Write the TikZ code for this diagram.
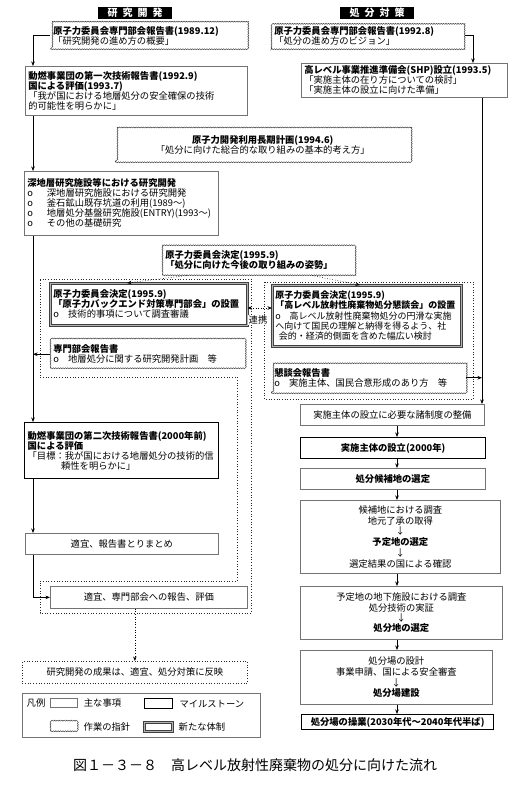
\documentclass[tikz,border=0pt]{standalone}
\usepackage{fontspec}
\setmainfont{Noto Sans CJK JP}
\usepackage{tikz}
\usetikzlibrary{arrows.meta, positioning, decorations.pathmorphing}
\tikzset{
  blk/.style={rectangle, align=left, anchor=north west, text=black,
              font=\fontsize{9.3}{10}\selectfont, inner xsep=3pt, inner ysep=2pt},
  mainb/.style={blk, draw=black!55, line width=0.7pt},
  mileb/.style={blk, draw=black, line width=1.3pt},
  guideb/.style={blk, draw=black!75, line width=0.5pt, decorate,
                 decoration={snake, amplitude=0.5pt, segment length=2.4pt}},
  newb/.style={blk, draw=black!75, line width=0.5pt, double=black!30, double distance=1.5pt},
  grp/.style={dotted, line width=0.7pt, draw=black!85},
  pipe/.style={-{Stealth[length=4.5pt, width=3.5pt]}, line width=0.6pt, draw=black},
  dpipe/.style={pipe, dotted},
  hdr/.style={fill=black, text=white, font=\bfseries\fontsize{10}{10}\selectfont,
              inner xsep=3pt, inner ysep=1pt, minimum width=74pt, minimum height=10pt},
  lbl/.style={font=\fontsize{9.3}{10}\selectfont, inner sep=1pt},
}

\begin{document}
\begin{tikzpicture}[x=1pt, y=-1pt, node distance=5pt]
    \fill[white] (0,0) rectangle (512,792);
    \useasboundingbox (0,0) rectangle (512,792);

    \node[hdr] (hres) at (135,13) {研\hspace{5pt}究\hspace{5pt}開\hspace{5pt}発};
    \node[hdr] (hdis) at (377,13) {処\hspace{5pt}分\hspace{5pt}対\hspace{5pt}策};

    \draw[grp] (40,279) -- (251,279) -- (251,613) -- (40,613) -- (40,581) -- (237,581) -- (237,377) -- (40,377) -- cycle;
    \draw[grp] (264,282) rectangle (473,399);

    \node[guideb, text width=191pt, minimum height=27pt] (a1) at (50,22) {\textbf{原子力委員会専門部会報告書(1989.12)}\\「研究開発の進め方の概要」};
    \node[mainb, text width=216pt, minimum height=49pt] (a2) at (25,66) {\textbf{動燃事業団の第一次技術報告書(1992.9)}\\\textbf{国による評価(1993.7)}\\「我が国における地層処分の安全確保の技術\\的可能性を明らかに」};
    \node[mainb, text width=188pt, minimum height=64pt] (a3) at (24,171) {\textbf{深地層研究施設等における研究開発}\\o\hspace{1.5em}深地層研究施設における研究開発\\o\hspace{1.5em}釜石鉱山既存坑道の利用(1989～)\\o\hspace{1.5em}地層処分基盤研究施設(ENTRY)(1993～)\\o\hspace{1.5em}その他の基礎研究};
    \node[mileb, text width=188pt, minimum height=56pt] (a4) at (24,422) {\textbf{動燃事業団の第二次技術報告書(2000年前)}\\\textbf{国による評価}\\「目標：我が国における地層処分の技術的信\\\hspace*{3.6em}頼性を明らかに」};
    \node[mainb, text width=187pt, minimum height=21pt, align=center] (a5) at (25,533) {適宜、報告書とりまとめ};
    \node[mainb, text width=191pt, minimum height=22pt, align=center] (a6) at (50,586) {適宜、専門部会への報告、評価};
    \node[blk, grp, text width=219pt, minimum height=22pt, align=center] (g1) at (22,661) {研究開発の成果は、適宜、処分対策に反映};

    \node[guideb, text width=289pt, minimum height=35pt, align=center] (c1) at (115,127) {\textbf{原子力開発利用長期計画(1994.6)}\\「処分に向けた総合的な取り組みの基本的考え方」};
    \node[guideb, text width=187pt, minimum height=30pt] (d1) at (162,245) {\textbf{原子力委員会決定(1995.9)}\\\textbf{「処分に向けた今後の取り組みの姿勢」}};
    \node[newb, text width=191pt, minimum height=42pt] (e1) at (50,283) {\textbf{原子力委員会決定(1995.9)}\\\textbf{「原子力バックエンド対策専門部会」の設置}\\o\quad 技術的事項について調査審議};
    \node[guideb, text width=189pt, minimum height=28pt] (e4) at (50,340) {\textbf{専門部会報告書}\\o\quad 地層処分に関する研究開発計画\hspace{1em}等};
    \node[newb, text width=183pt, minimum height=61pt, font=\fontsize{9}{10.2}\selectfont] (e2) at (272,285) {\textbf{原子力委員会決定(1995.9)}\\\textbf{「高レベル放射性廃棄物処分懇談会」の設置}\\o\quad 高レベル放射性廃棄物処分の円滑な実施\\へ向けて国民の理解と納得を得るよう、社\\\hspace*{0.4em}会的・経済的側面を含めた幅広い検討};
    \node[guideb, text width=188pt, minimum height=31pt] (e3) at (271,362) {\textbf{懇談会報告書}\\o\quad 実施主体、国民合意形成のあり方\hspace{1em}等};

    \node[guideb, text width=187pt, minimum height=27pt] (b1) at (271,22) {\textbf{原子力委員会専門部会報告書(1992.8)}\\「処分の進め方のビジョン」};
    \node[mainb, text width=200pt, minimum height=34pt] (b2) at (301,63) {\textbf{高レベル事業推進準備会(SHP)設立(1993.5)}\\「実施主体の在り方についての検討」\\「実施主体の設立に向けた準備」};

    \node[mainb, text width=178pt, minimum height=21pt, align=center] (f1) at (300,404) {実施主体の設立に必要な諸制度の整備};
    \node[mileb, text width=179pt, minimum height=21pt, align=center] (f2) at (300,437) {\textbf{実施主体の設立(2000年)}};
    \node[mainb, text width=179pt, minimum height=21pt, align=center] (f3) at (300,468) {\textbf{処分候補地の選定}};
    \node[mainb, text width=194pt, minimum height=73pt, align=center, font=\fontsize{9.3}{10.8}\selectfont] (f4) at (300,500) {候補地における調査\\地元了承の取得\\↓\\\textbf{予定地の選定}\\↓\\選定結果の国による確認};
    \node[mainb, text width=196pt, minimum height=53pt, align=center, font=\fontsize{9.3}{10.3}\selectfont] (f5) at (300,586) {予定地の地下施設における調査\\処分技術の実証\\↓\\\textbf{処分地の選定}};
    \node[mainb, text width=186pt, minimum height=54pt, align=center, font=\fontsize{9.3}{10.6}\selectfont] (f6) at (300,650) {処分場の設計\\事業申請、国による安全審査\\↓\\\textbf{処分場建設}};
    \node[mileb, text width=186pt, minimum height=15pt, inner ysep=1pt, align=center] (f7) at (301,714) {\textbf{処分場の操業(2030年代～2040年代半ば)}};

    \coordinate (lx) at (33,0);
    \coordinate (rx) at (482,0);
    \coordinate (rx1) at (473,0);
    \coordinate (ax) at (397,0);
    \coordinate (lk) at (258,308);

    \draw[pipe] (a1.west) -| (a2.north -| lx);
    \draw[pipe] (a2.south -| lx) -- (a3.north -| lx);
    \draw[pipe] (a3.south -| lx) -- (a4.north -| lx);
    \draw[pipe] (a4.south -| lx) -- (a5.north -| lx);
    \draw[pipe] (a5.south -| lx) |- (a6.west);
    \draw[pipe] (e4.west) -- (e4.west -| lx);
    \draw[dpipe] (a6.south -| g1.north) -- (g1.north);

    \draw[pipe] (b1.east) -| (b2.north -| rx1);
    \draw[pipe] (b2.south -| rx) -- (f1.north -| rx);
    \draw[pipe] (e3.east) -- (e3.east -| rx);
    \draw[pipe] (f1.south -| ax) -- (f2.north -| ax);
    \draw[pipe] (f2.south -| ax) -- (f3.north -| ax);
    \draw[pipe] (f3.south -| ax) -- (f4.north -| ax);
    \draw[pipe] (f4.south -| ax) -- (f5.north -| ax);
    \draw[pipe] (f5.south -| ax) -- (f6.north -| ax);
    \draw[pipe] (f6.south -| ax) -- (f7.north -| ax);

    \draw[dpipe] ([xshift=25pt]d1.south west) -- ([xshift=77pt]e1.north west);
    \draw[dpipe] ([xshift=150pt]d1.south west) -- ([xshift=88pt]e2.north west);
    \draw[dpipe, {Stealth[length=4.5pt, width=3.5pt]}-{Stealth[length=4.5pt, width=3.5pt]}] (e1.east |- lk) -- (e2.west |- lk);
    \node[lbl, fill=white, inner sep=0.5pt, below=7pt of lk] (lkt) {連携};

    \node[blk, draw=black!55, line width=0.6pt, minimum width=238pt, minimum height=44pt] (lg) at (22,693) {};
    \node[lbl] (lgt) at (36,703) {凡例};
    \node[mainb, minimum width=27pt, minimum height=9pt, inner sep=0pt] (lgm) at (50,698) {};
    \node[lbl, right=5pt of lgm] (lgmt) {主な事項};
    \node[mileb, minimum width=28pt, minimum height=10pt, inner sep=0pt] (lgs) at (144,698) {};
    \node[lbl, right=5pt of lgs] (lgst) {マイルストーン};
    \node[guideb, minimum width=27pt, minimum height=9pt, inner sep=0pt] (lgg) at (50,722) {};
    \node[lbl, right=5pt of lgg] (lggt) {作業の指針};
    \node[newb, minimum width=28pt, minimum height=9pt, inner sep=0pt] (lgn) at (144,722) {};
    \node[lbl, right=5pt of lgn] (lgnt) {新たな体制};

    \node[font=\fontsize{14}{14}\selectfont] (cap) at (255,765) {図１－３－８\hspace{1em}高レベル放射性廃棄物の処分に向けた流れ};
\end{tikzpicture}
\end{document}
